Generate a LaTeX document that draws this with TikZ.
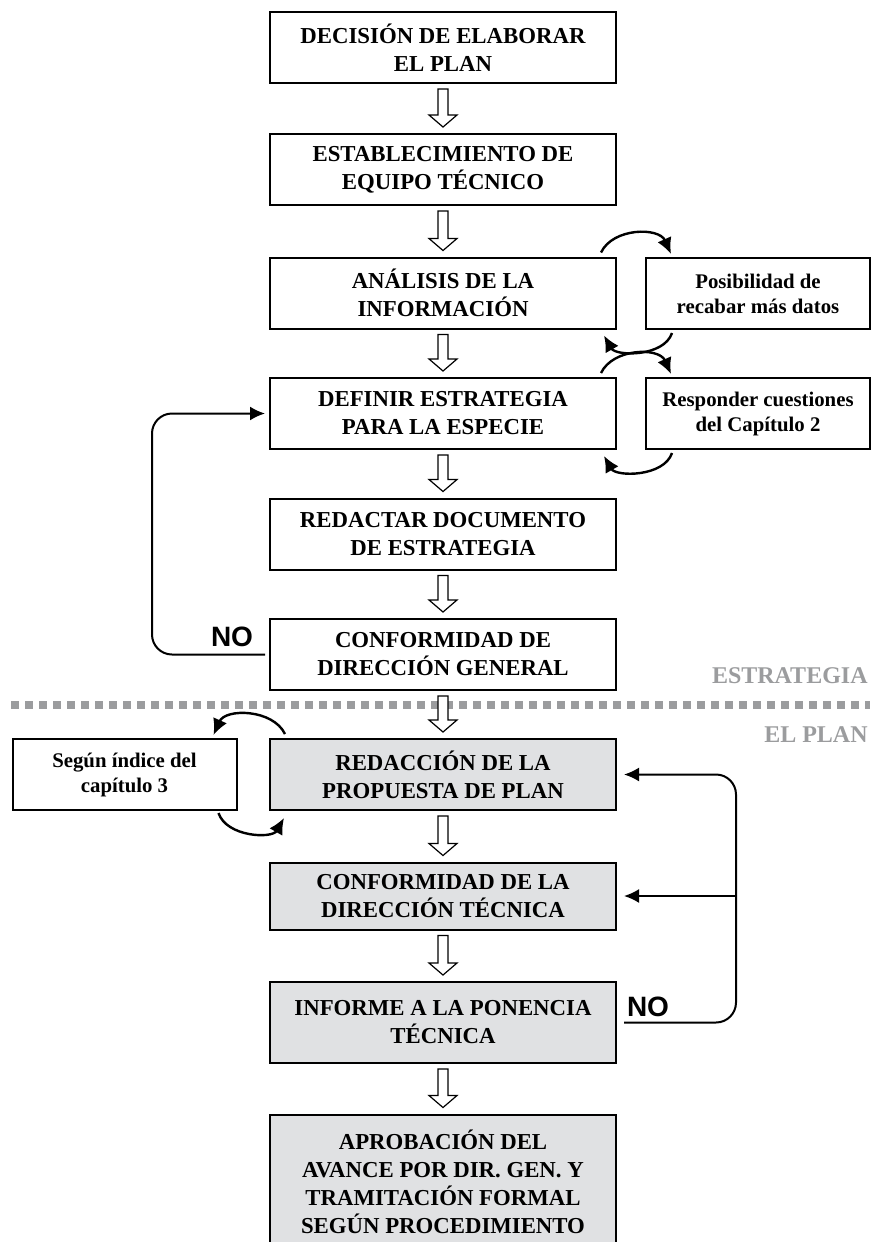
\documentclass[tikz,border=0pt]{standalone}
\usepackage{fontspec}
\setmainfont{Liberation Serif}
\newfontfamily\nofont{Liberation Sans}
\usetikzlibrary{calc,arrows.meta}
\definecolor{cajagris}{RGB}{224,225,227}
\definecolor{rotulo}{RGB}{155,156,158}

% flecha hueca entre dos cajas
\newcommand{\flecha}[2]{%
  \draw[hueca] ($(#1.south)+(-5,5)$) -- ($(#2.north)+(-5,-18)$)
    -- ($(#2.north)+(-14,-18)$) -- ($(#2.north)+(0,-6)$)
    -- ($(#2.north)+(14,-18)$) -- ($(#2.north)+(5,-18)$)
    -- ($(#1.south)+(5,5)$) -- cycle;}

\begin{document}
\begin{tikzpicture}[x=0.5pt,y=-0.5pt,
  caja/.style={draw,line width=1pt,minimum width=173pt,minimum height=35.5pt,
    align=center,inner sep=0pt,font=\bfseries\fontsize{11.4pt}{14pt}\selectfont},
  gris/.style={caja,fill=cajagris},
  lado/.style={draw,line width=1pt,minimum width=112pt,minimum height=35.5pt,
    align=center,inner sep=0pt,font=\bfseries\fontsize{10.4pt}{12.5pt}\selectfont},
  hueca/.style={draw,fill=white,line width=0.6pt},
  curva/.style={line width=1.2pt,-{Latex[length=8pt,width=7.5pt]}},
  lazo/.style={line width=1pt,rounded corners=10pt,-{Latex[length=7.5pt,width=7pt]}},
  no/.style={font=\nofont\bfseries\fontsize{14pt}{14pt}\selectfont},
  seccion/.style={anchor=east,inner sep=0pt,text=rotulo,
    font=\bfseries\fontsize{12pt}{12pt}\selectfont}]
  \useasboundingbox (0,0) rectangle (872,1242);

  %% separacion estrategia / plan
  \draw[rotulo,line width=4pt,dash pattern=on 4pt off 3pt] (11,705) -- (870,705);
  \node[seccion] (estr) at (868,676) {ESTRATEGIA};
  \node[seccion] (plan) at (868,735) {EL PLAN};

  %% estrategia
  \node[caja] (b1) at (443,47.5) {DECISIÓN DE ELABORAR\\EL PLAN};
  \node[caja] (b2) at (443,169.5) {ESTABLECIMIENTO DE\\EQUIPO TÉCNICO};
  \node[caja] (b3) at (443,293) {ANÁLISIS DE LA\\INFORMACIÓN};
  \node[caja] (b4) at (443,413.5) {DEFINIR ESTRATEGIA\\PARA LA ESPECIE};
  \node[caja] (b5) at (443,534) {REDACTAR DOCUMENTO\\DE ESTRATEGIA};
  \node[caja] (b6) at (443,654.5) {CONFORMIDAD DE\\DIRECCIÓN GENERAL};

  % cajas laterales
  \node[lado] (s1) at (758,293.5) {Posibilidad de\\recabar más datos};
  \node[lado] (s2) at (758,413.5) {Responder cuestiones\\del Capítulo 2};

  %% el plan
  \node[gris] (b7) at (443,774.5) {REDACCIÓN DE LA\\PROPUESTA DE PLAN};
  \node[gris,minimum height=33.5pt] (b8) at (443,896) {CONFORMIDAD DE LA\\DIRECCIÓN TÉCNICA};
  \node[gris,minimum height=40.5pt] (b9) at (443,1022.5) {INFORME A LA PONENCIA\\TÉCNICA};
  \node[gris,minimum height=67.5pt] (b10) at (443,1182) {APROBACIÓN DEL\\AVANCE POR DIR. GEN. Y\\TRAMITACIÓN FORMAL\\SEGÚN PROCEDIMIENTO};
  \node[lado] (s3) at (124.5,774.5) {Según índice del\\capítulo 3};

  % flechas huecas
  \flecha{b1}{b2}
  \flecha{b2}{b3}
  \flecha{b3}{b4}
  \flecha{b4}{b5}
  \flecha{b5}{b6}
  \flecha{b6}{b7}
  \flecha{b7}{b8}
  \flecha{b8}{b9}
  \flecha{b9}{b10}

  % idas y vueltas
  \draw[curva] ($(b3.north east)+(-16,-4)$) .. controls +(12,-25) and +(-12,-27) .. ($(s1.north west)+(26,-3)$);
  \draw[curva] ($(s1.south west)+(27,3)$) .. controls +(-8,24) and +(12,21) .. ($(b3.south east)+(-13,6)$);
  \draw[curva] ($(b4.north east)+(-16,-4)$) .. controls +(12,-25) and +(-12,-27) .. ($(s2.north west)+(26,-3)$);
  \draw[curva] ($(s2.south west)+(27,3)$) .. controls +(-8,24) and +(12,21) .. ($(b4.south east)+(-13,6)$);
  \draw[curva] ($(b7.north west)+(16,-4)$) .. controls +(-12,-25) and +(12,-27) .. ($(s3.north east)+(-24,-3)$);
  \draw[curva] ($(s3.south east)+(-19,2)$) .. controls +(8,24) and +(-12,21) .. ($(b7.south west)+(15,7)$);

  %% lazos NO
  \draw[lazo,shorten <=2pt,shorten >=2pt] (b6.west) -- ++(-117,0) |- (b4.west);
  \node[no] (no1) at (232,637) {NO};
  \coordinate (giro) at ($(b9.east)+(119,0)$);
  \draw[lazo,shorten <=3.5pt,shorten >=3.5pt] (b9.east) -- (giro) |- (b7.east);
  \draw[lazo,shorten >=3.5pt] (giro |- b8.east) -- (b8.east);
  \node[no] (no2) at (648,1007) {NO};
\end{tikzpicture}
\end{document}
